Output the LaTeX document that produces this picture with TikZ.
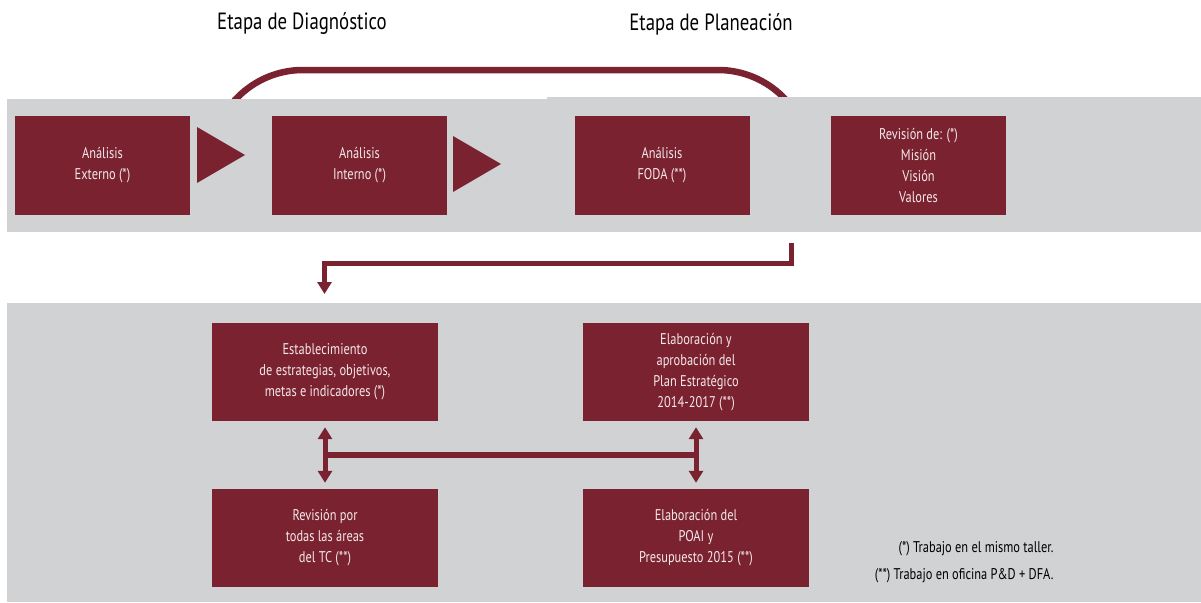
\documentclass[tikz,border=0pt]{standalone}
\usepackage{fontspec}
\setmainfont{PT Sans}[FakeStretch=0.8]
\usetikzlibrary{arrows.meta,calc}
\definecolor{maroon}{HTML}{7A2230}
\definecolor{band}{HTML}{D1D2D4}
\definecolor{boxtext}{HTML}{F4E8EA}
\tikzset{
  stepbox/.style={fill=maroon, draw=none, text=boxtext, align=center, inner sep=0pt,
     font=\fontsize{15.5}{21}\selectfont},
  topbox/.style={stepbox, minimum width=175pt, minimum height=99pt},
  lowbox/.style={stepbox, minimum width=226pt, minimum height=98pt},
  flowtri/.style={fill=maroon},
  conn/.style={draw=maroon, line width=5pt, -{Triangle[width=14pt,length=12pt]}},
  dblconn/.style={draw=maroon, line width=5pt, {Triangle[width=14pt,length=12pt]}-{Triangle[width=14pt,length=12pt]}, shorten <=6pt, shorten >=6pt},
  title/.style={font=\fontsize{23.5}{26}\selectfont, text=black},
  note/.style={font=\fontsize{15.5}{27}\selectfont, align=right, text=black}
}
\begin{document}
\begin{tikzpicture}[x=1pt,y=-1pt]
\fill[white] (0,0) rectangle (1201,602);
\useasboundingbox (0,0) rectangle (1201,602);
% top rounded loop (lower part hidden by band)
\draw[maroon, line width=6.5pt, rounded corners=92pt] (211,200) -- (211,70) -- (810,70) -- (810,200);
% bands
\fill[band] (7,99) rectangle (1201,232);
\fill[band] (547,97) rectangle (1201,232);
\fill[band] (7,303) rectangle (1201,602);
% titles
\node[title] (t1) at (302,24) {Etapa de Diagnóstico};
\node[title] (t2) at (711,24) {Etapa de Planeación};
% top row
\node[topbox] (b1) at (102.5,165.5) {Análisis\\Externo (*)};
\node[topbox] (b2) at (359.5,165.5) {Análisis\\Interno (*)};
\node[topbox] (b3) at (662,165.5) {Análisis\\FODA (**)};
\node[topbox] (b4) at (918.5,165.5) {Revisión de: (*)\\Misión\\Visión\\Valores};
\fill[flowtri] (197,127) -- (245,155) -- (197,183) -- cycle;
\fill[flowtri] (453,136) -- (501,164) -- (453,192) -- cycle;
% elbow connector
\coordinate (e0) at (791,243);
\coordinate (e1) at (324.5,294);
\draw[conn] (e0) -- (791,263) -- (324.5,263) -- (e1);
% bottom boxes
\node[lowbox] (b5) at (325,372) {Establecimiento\\de estrategias, objetivos,\\metas e indicadores (*)};
\node[lowbox] (b6) at (696,372) {Elaboración y\\aprobación del\\Plan Estratégico\\2014-2017 (**)};
\node[lowbox] (b7) at (325,538) {Revisión por\\todas las áreas\\del TC (**)};
\node[lowbox] (b8) at (696,538) {Elaboración del\\POAI y\\Presupuesto 2015 (**)};
\draw[dblconn] (b5) -- (b7);
\draw[dblconn] (b6) -- (b8);
\coordinate (m1) at ($(b5.south)!0.5!(b7.north)$);
\coordinate (m2) at ($(b6.south)!0.5!(b8.north)$);
\draw[maroon, line width=6pt] (m1) -- (m2);
% notes
\node[note, anchor=east] (n1) at (1057,562) {(*) Trabajo en el mismo taller.\\(**) Trabajo en oficina P\&D + DFA.};
\end{tikzpicture}
\end{document}
